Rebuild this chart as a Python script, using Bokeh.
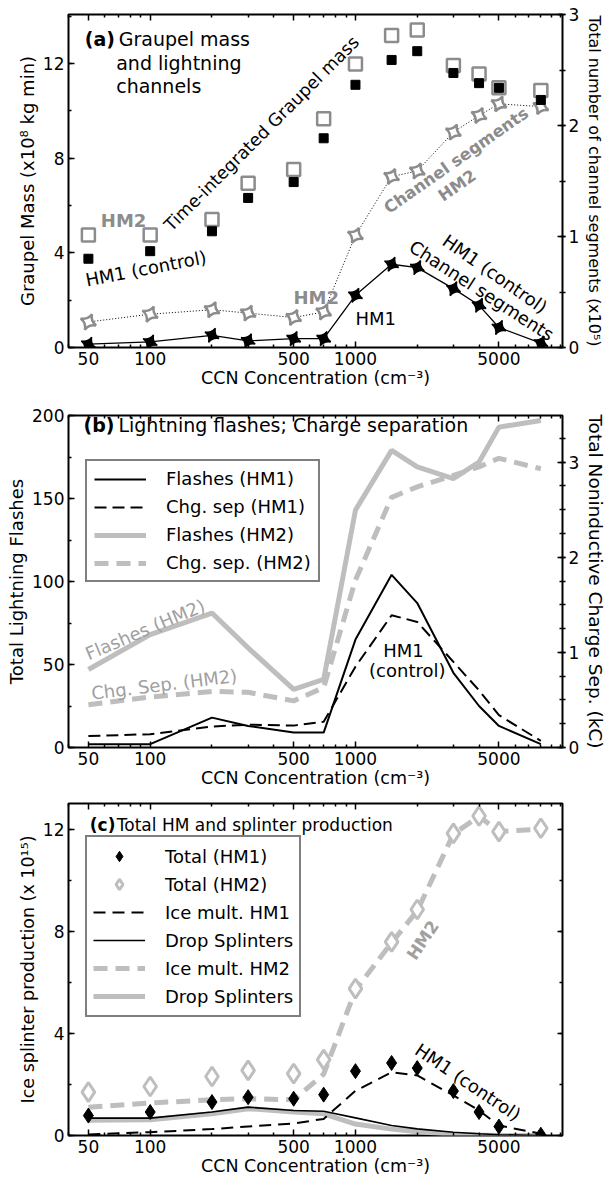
import math
from bokeh.plotting import figure
from bokeh.models import (Range1d, LinearAxis, LogAxis, FixedTicker, SingleIntervalTicker,
                          Label, Legend, LegendItem, BasicTickFormatter, CustomJSTickFormatter)
from bokeh.layouts import column
from bokeh.embed import file_html
from bokeh.resources import INLINE

FONT = "DejaVu Sans"

# ---------------- data ----------------
ccn = [50, 100, 200, 300, 500, 700, 1000, 1500, 2000, 3000, 4000, 5000, 8000]
x_major = [50, 100, 500, 1000, 5000]
x_major_labels = ["50", "100", "500", "1000", "5000"]
x_minor = [40, 60, 70, 80, 90, 200, 300, 400, 600, 700, 800, 900,
           2000, 3000, 4000, 6000, 7000, 8000, 9000, 10000]

# (a) graupel mass (x1e8 kg min) and channel segments (x1e5)
graupel_hm1 = [3.75, 4.07, 4.91, 6.32, 6.99, 8.84, 11.1, 12.15, 12.52, 11.6, 11.17, 10.97, 10.46]
graupel_hm2 = [4.75, 4.75, 5.41, 6.94, 7.52, 9.66, 11.98, 13.18, 13.42, 11.91, 11.56, 10.97, 10.86]
channels_hm1 = [0.03, 0.05, 0.11, 0.06, 0.08, 0.08, 0.47, 0.75, 0.72, 0.53, 0.38, 0.18, 0.04]
channels_hm2 = [0.23, 0.30, 0.34, 0.31, 0.27, 0.32, 1.01, 1.54, 1.59, 1.94, 2.09, 2.195, 2.17]

# (b) lightning flashes and charge separation (kC)
flashes_hm1 = [2, 2, 18, 13, 9, 9, 65, 104, 87, 45, 25, 13, 2]
chgsep_hm1 = [0.12, 0.14, 0.22, 0.24, 0.23, 0.27, 0.85, 1.39, 1.32, 0.90, 0.60, 0.34, 0.07]
flashes_hm2 = [47, 68, 81, 60, 35, 41, 143, 179, 169, 162, 172, 193, 197]
chgsep_hm2 = [0.45, 0.53, 0.59, 0.58, 0.49, 0.63, 1.76, 2.63, 2.74, 2.86, 2.95, 3.04, 2.93]

# (c) ice splinter production (x1e15)
total_hm1 = [0.78, 0.92, 1.31, 1.50, 1.44, 1.60, 2.52, 2.84, 2.64, 1.74, 0.92, 0.35, 0.03]
total_hm2 = [1.70, 1.92, 2.31, 2.55, 2.42, 2.97, 5.75, 7.58, 8.85, 11.83, 12.51, 11.90, 12.03]
icemult_hm1 = [0.04, 0.13, 0.25, 0.35, 0.47, 0.65, 1.75, 2.48, 2.35, 1.57, 0.98, 0.39, 0.07]
splinters_hm1 = [0.68, 0.68, 0.92, 1.11, 0.98, 0.95, 0.69, 0.39, 0.26, 0.13, 0.07, 0.03, 0.0]
icemult_hm2 = [1.11, 1.27, 1.40, 1.44, 1.40, 2.40, 5.70, 7.55, 8.80, 11.80, 12.50, 11.90, 12.00]
splinters_hm2 = [0.60, 0.62, 0.85, 1.05, 0.92, 0.85, 0.45, 0.25, 0.15, 0.05, 0.02, 0.0, 0.0]

GRAY_A = "#8c8c8c"
GRAY_L = "#bebebe"
GRAY_T = "#a0a0a0"

W = 609
LEFT = 68
RIGHT = 43
BLANK = CustomJSTickFormatter(code="return ''")


def style_axis(ax, labels=True, tin=6, tout=0, min_in=3, min_out=0, size="17px"):
    ax.axis_line_color = None
    ax.major_tick_in = tin
    ax.major_tick_out = tout
    ax.minor_tick_in = min_in
    ax.minor_tick_out = min_out
    ax.major_tick_line_color = "black"
    ax.major_tick_line_width = 1.5
    ax.minor_tick_line_color = "black"
    ax.minor_tick_line_width = 1.5
    ax.major_label_text_font = FONT
    ax.major_label_text_color = "black"
    ax.major_label_text_font_size = size
    ax.axis_label_text_font = FONT
    ax.axis_label_text_font_style = "normal"
    ax.axis_label_text_color = "black"
    if labels:
        ax.major_label_standoff = 4
        ax.axis_label_standoff = 2
    else:
        ax.formatter = BLANK
        ax.major_label_standoff = 0


def make_fig(height, top, bottom, y0, y1, ystep, yminor, ylabel, ylabel_size="18px",
             xlabel_standoff=4):
    p = figure(width=W, height=height, x_axis_type="log", x_range=Range1d(40, 10200),
               y_range=Range1d(y0, y1), output_backend="svg", toolbar_location=None,
               min_border_left=LEFT, min_border_right=RIGHT, min_border_top=top,
               min_border_bottom=bottom)
    p.xgrid.visible = False
    p.ygrid.visible = False
    p.outline_line_color = "black"
    p.outline_line_width = 2
    p.outline_line_alpha = 1
    p.background_fill_color = "white"
    p.border_fill_color = "white"

    xb = p.xaxis[0]
    xb.ticker = FixedTicker(ticks=x_major, minor_ticks=x_minor)
    xb.formatter = BasicTickFormatter()
    xb.major_label_overrides = dict(zip(x_major, x_major_labels))
    style_axis(xb)
    xb.major_label_standoff = xlabel_standoff
    xb.axis_label = "CCN Concentration (cm\u207b\u00b3)"
    xb.axis_label_text_font_size = "17.5px"
    xb.axis_label_standoff = 0

    xt = LogAxis(ticker=FixedTicker(ticks=x_major, minor_ticks=x_minor))
    style_axis(xt, labels=False)
    p.add_layout(xt, "above")

    yl = p.yaxis[0]
    yl.ticker = SingleIntervalTicker(interval=ystep, num_minor_ticks=yminor)
    style_axis(yl)
    yl.axis_label = ylabel
    yl.axis_label_text_font_size = ylabel_size
    return p


def add_right(p, name, r0, r1, step, nminor, label=None, size="18px"):
    if name is not None:
        p.extra_y_ranges = {name: Range1d(r0, r1)}
        ax = LinearAxis(y_range_name=name,
                        ticker=SingleIntervalTicker(interval=step, num_minor_ticks=nminor))
        style_axis(ax, tin=5, tout=3, min_in=3, min_out=3)
        ax.major_label_standoff = 3
        ax.axis_label = label
        ax.axis_label_text_font_size = size
        ax.axis_label_standoff = 3
    else:
        ax = LinearAxis(ticker=SingleIntervalTicker(interval=step, num_minor_ticks=nminor))
        style_axis(ax, labels=False, tin=5, tout=0)
    p.add_layout(ax, "right")
    return ax


def lab(p, x, y, text, size="18px", color="black", bold=False, angle=0.0,
        align="center", xoff=0, yname="default"):
    p.add_layout(Label(x=x, y=y, text=text, text_font=FONT, text_font_size=size,
                       text_color=color, text_font_style="bold" if bold else "normal",
                       angle=math.radians(angle), text_align=align,
                       text_baseline="middle", x_offset=xoff, y_range_name=yname))


# ---------------- panel (a) ----------------
pa = make_fig(403, 14, 56, 0, 14.07, 4, 2, "Graupel Mass (x10\u2078 kg min)")
add_right(pa, "ch", 0, 3, 1, 2, "Total number of channel segments (x10\u2075)", size="16px")

pa.line(ccn, channels_hm2, y_range_name="ch", line_color="black", line_width=1,
        line_dash="1 2")
pa.line(ccn, channels_hm1, y_range_name="ch", line_color="black", line_width=1.3)
pa.scatter(ccn, channels_hm2, y_range_name="ch", marker="square_pin", size=12, angle=0.35,
           fill_color="white", line_color=GRAY_A, line_width=2.5)
pa.scatter(ccn, channels_hm1, y_range_name="ch", marker="square_pin", size=11, angle=0.35,
           fill_color="black", line_color="black", line_width=1.5)
pa.scatter(ccn, graupel_hm2, marker="square", size=13, fill_color=None,
           line_color=GRAY_A, line_width=2.5)
pa.scatter(ccn, graupel_hm1, marker="square", size=9, fill_color="black",
           line_color="black")

lab(pa, 48, 13.05, "(a)", size="19px", bold=True, align="left")
lab(pa, 48, 13.05, "Graupel mass", size="19px", align="left", xoff=34)
lab(pa, 68.3, 12.0, "and lightning", size="19px", align="left")
lab(pa, 68.3, 11.03, "channels", size="19px", align="left")
lab(pa, 57.5, 5.37, "HM2", color=GRAY_A, bold=True, align="left")
lab(pa, 95.4, 3.34, "HM1 (control)", angle=11)
lab(pa, 349, 9.04, "Time-integrated Graupel mass", size="17.5px", angle=45)
lab(pa, 3097, 7.9, "Channel segments", size="16.5px", color=GRAY_A, bold=True, angle=35)
lab(pa, 3133, 6.84, "HM2", size="16.5px", color=GRAY_A, bold=True, angle=35)
lab(pa, 644, 2.11, "HM2", color=GRAY_A, bold=True)
lab(pa, 1256, 1.23, "HM1")
lab(pa, 4783, 3.11, "HM1 (control)", angle=-35)
lab(pa, 4117, 2.41, "Channel segments", angle=-33)

# ---------------- panel (b) ----------------
pb = make_fig(390, 12, 46, 0, 200, 50, 2, "Total Lightning Flashes")
add_right(pb, "kc", 0, 3.49, 1, 4, "Total Noninductive Charge Sep. (kC)", size="18.5px")

rb3 = pb.line(ccn, flashes_hm2, line_color=GRAY_L, line_width=5)
rb4 = pb.line(ccn, chgsep_hm2, y_range_name="kc", line_color=GRAY_L, line_width=5,
              line_dash="14 8")
rb1 = pb.line(ccn, flashes_hm1, line_color="black", line_width=2)
rb2 = pb.line(ccn, chgsep_hm1, y_range_name="kc", line_color="black", line_width=2,
              line_dash="12 6")

leg_b = Legend(items=[LegendItem(label="Flashes (HM1)", renderers=[rb1]),
                      LegendItem(label="Chg. sep (HM1)", renderers=[rb2]),
                      LegendItem(label="Flashes (HM2)", renderers=[rb3]),
                      LegendItem(label="Chg. sep. (HM2)", renderers=[rb4])],
               location=(17, 165))

lab(pb, 47.3, 194, "(b)", size="19px", bold=True, align="left")
lab(pb, 47.3, 194, "Lightning flashes; Charge separation", size="19px", align="left", xoff=35)
lab(pb, 94.4, 71.1, "Flashes (HM2)", color=GRAY_T, angle=23)
lab(pb, 117, 38, "Chg. Sep. (HM2)", color=GRAY_T, angle=7)
lab(pb, 1713, 58.4, "HM1")
lab(pb, 1789, 46.4, "(control)")

# ---------------- panel (c) ----------------
pc = make_fig(390, 10, 48, 0, 13.0, 4, 2, "Ice splinter production (x 10\u00b9\u2075)",
              ylabel_size="17.5px", xlabel_standoff=4)
add_right(pc, None, 0, 13.0, 4, 2)

rc6 = pc.line(ccn, splinters_hm2, line_color=GRAY_L, line_width=5)
rc5 = pc.line(ccn, icemult_hm2, line_color=GRAY_L, line_width=5, line_dash="14 8")
rc4 = pc.line(ccn, splinters_hm1, line_color="black", line_width=1.6)
rc3 = pc.line(ccn, icemult_hm1, line_color="black", line_width=2, line_dash="12 7")
rc2 = pc.scatter(ccn, total_hm2, marker="diamond", size=19, fill_color="white",
                 line_color=GRAY_L, line_width=3)
rc1 = pc.scatter(ccn, total_hm1, marker="diamond", size=15, fill_color="black",
                 line_color="black")

leg_c = Legend(items=[LegendItem(label="Total (HM1)", renderers=[rc1]),
                      LegendItem(label="Total (HM2)", renderers=[rc2]),
                      LegendItem(label="Ice mult. HM1", renderers=[rc3]),
                      LegendItem(label="Drop Splinters", renderers=[rc4]),
                      LegendItem(label="Ice mult. HM2", renderers=[rc5]),
                      LegendItem(label="Drop Splinters", renderers=[rc6])],
               location=(17, 118))

for p, lg, pad, sp, gh in [(pb, leg_b, 7, 7, 20), (pc, leg_c, 6, 2, 26)]:
    lg.border_line_color = "black"
    lg.border_line_width = 2
    lg.background_fill_color = "white"
    lg.background_fill_alpha = 1
    lg.label_text_font = FONT
    lg.label_text_font_size = "18px"
    lg.label_text_color = "black"
    lg.glyph_width = 52
    lg.glyph_height = gh
    lg.label_height = gh
    lg.label_standoff = 20
    lg.spacing = sp
    lg.padding = pad
    lg.margin = 0
    p.add_layout(lg)

lab(pc, 50.8, 12.16, "(c)", size="17px", bold=True, align="left")
lab(pc, 50.8, 12.16, "Total HM and splinter production", size="17px", align="left", xoff=27)
lab(pc, 2126, 7.65, "HM2", size="17px", color=GRAY_T, bold=True, angle=56)
lab(pc, 3537, 2.09, "HM1 (control)", angle=-34)

layout = column(pa, pb, pc, spacing=0)
open("out.html", "w").write(file_html(layout, INLINE))
